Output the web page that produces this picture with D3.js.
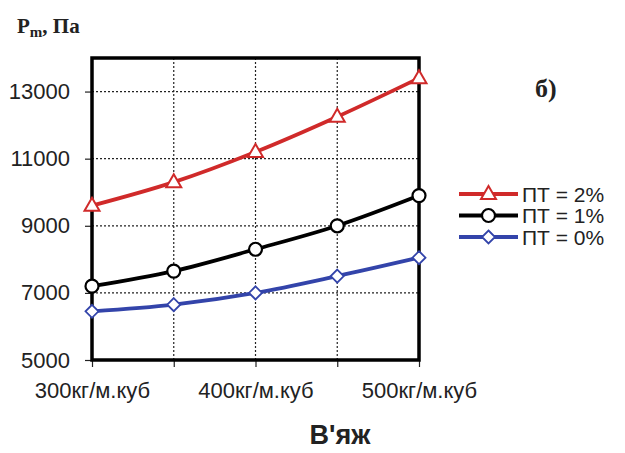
<!DOCTYPE html>
<html>
<head>
<meta charset="utf-8">
<script src="https://cdn.jsdelivr.net/npm/d3@7"></script>
<style>
  body { margin: 0; background: #fff; }
  svg text { font-family: "Liberation Sans", Arial, sans-serif; fill: #222; }
</style>
</head>
<body>
<svg id="chart" width="625" height="453"></svg>
<script>
// Data
const categories = ['300', '350', '400', '450', '500'];
const tickLabels = ['300кг/м.куб', '', '400кг/м.куб', '', '500кг/м.куб'];
const yTicks = [5000, 7000, 9000, 11000, 13000];
const pt2 = [9600, 10300, 11200, 12250, 13400];
const pt1 = [7200, 7650, 8300, 9000, 9900];
const pt0 = [6450, 6650, 7000, 7500, 8050];

const series = [
  { name: 'ПТ = 2%', values: pt2, color: '#d02a2a', marker: 'triangle' },
  { name: 'ПТ = 1%', values: pt1, color: '#000000', marker: 'circle' },
  { name: 'ПТ = 0%', values: pt0, color: '#3344aa', marker: 'diamond' }
];

const svg = d3.select('#chart');
const plot = { left: 92, right: 419, top: 58, bottom: 360 };

const x = d3.scalePoint().domain(categories).range([plot.left, plot.right]);
const y = d3.scaleLinear().domain([5000, 14000]).range([plot.bottom, plot.top]);

// Grid lines (dotted)
const grid = svg.append('g').attr('class', 'grid');
grid.selectAll('.hgrid')
  .data(yTicks.filter(t => t > 5000))
  .enter().append('line')
  .attr('x1', plot.left).attr('x2', plot.right)
  .attr('y1', d => y(d)).attr('y2', d => y(d))
  .attr('stroke', '#222').attr('stroke-width', 1.2).attr('stroke-dasharray', '2,2');
grid.selectAll('.vgrid')
  .data(categories.slice(1, -1))
  .enter().append('line')
  .attr('x1', d => x(d)).attr('x2', d => x(d))
  .attr('y1', plot.top).attr('y2', plot.bottom)
  .attr('stroke', '#222').attr('stroke-width', 1.2).attr('stroke-dasharray', '2,2');

// Axes
const yAxis = d3.axisLeft(y).tickValues(yTicks).tickSize(7).tickPadding(15).tickFormat(d3.format('d'));
const yG = svg.append('g').attr('transform', `translate(${plot.left},0)`).call(yAxis);
yG.select('.domain').remove();
yG.selectAll('line').attr('stroke', '#222').attr('stroke-width', 1.2);
yG.selectAll('text').style('font-size', '22px').attr('fill', '#222');

const xAxis = d3.axisBottom(x).tickSize(7).tickPadding(15).tickFormat((d, i) => tickLabels[i]);
const xG = svg.append('g').attr('transform', `translate(0,${plot.bottom})`).call(xAxis);
xG.select('.domain').remove();
xG.selectAll('line').attr('stroke', '#222').attr('stroke-width', 1.2);
xG.selectAll('text').style('font-size', '22px').attr('fill', '#222');

// Frame
svg.append('rect')
  .attr('x', plot.left).attr('y', plot.top)
  .attr('width', plot.right - plot.left).attr('height', plot.bottom - plot.top)
  .attr('fill', 'none').attr('stroke', '#000').attr('stroke-width', 3.5);

// Lines
const line = d3.line()
  .x((d, i) => x(categories[i]))
  .y(d => y(d))
  .curve(d3.curveMonotoneX);

const drawMarker = (g, type, cx, cy, color) => {
  if (type === 'triangle') {
    g.append('path')
      .attr('d', `M${cx},${cy - 8} L${cx + 7.5},${cy + 5} L${cx - 7.5},${cy + 5} Z`)
      .attr('fill', '#fff').attr('stroke', color).attr('stroke-width', 2);
  } else if (type === 'circle') {
    g.append('circle').attr('cx', cx).attr('cy', cy).attr('r', 6.5)
      .attr('fill', '#fff').attr('stroke', color).attr('stroke-width', 2.2);
  } else {
    g.append('path')
      .attr('d', `M${cx},${cy - 6.5} L${cx + 6.5},${cy} L${cx},${cy + 6.5} L${cx - 6.5},${cy} Z`)
      .attr('fill', '#fff').attr('stroke', color).attr('stroke-width', 1.8);
  }
};

const linesG = svg.append('g').attr('class', 'series');
series.forEach(s => {
  linesG.append('path')
    .attr('d', line(s.values))
    .attr('fill', 'none').attr('stroke', s.color).attr('stroke-width', 3.8);
  s.values.forEach((v, i) => drawMarker(linesG, s.marker, x(categories[i]), y(v), s.color));
});

// Legend
const legend = svg.append('g').attr('class', 'legend');
series.forEach((s, i) => {
  const ly = 194 + i * 21.5;
  legend.append('line')
    .attr('x1', 459).attr('x2', 518).attr('y1', ly).attr('y2', ly)
    .attr('stroke', s.color).attr('stroke-width', 4);
  drawMarker(legend, s.marker, 488.5, ly, s.color);
  legend.append('text')
    .attr('x', 522).attr('y', ly + 7.5)
    .style('font-size', '21px')
    .text(s.name);
});

// Axis titles and annotations
svg.append('text')
  .attr('x', 340).attr('y', 444)
  .attr('text-anchor', 'middle')
  .style('font-size', '27px').style('font-weight', 'bold')
  .text('В\'яж');

const yTitle = svg.append('text')
  .attr('x', 17).attr('y', 33)
  .style('font-family', '"Liberation Serif", "Times New Roman", serif')
  .style('font-size', '21px').style('font-weight', 'bold');
yTitle.append('tspan').text('P');
yTitle.append('tspan').attr('dy', 4).style('font-size', '15px').text('m');
yTitle.append('tspan').attr('dy', -4).text(', Па');

svg.append('text')
  .attr('x', 535).attr('y', 97)
  .style('font-family', '"Liberation Serif", "Times New Roman", serif')
  .style('font-size', '26px').style('font-weight', 'bold')
  .text('б)');
</script>
</body>
</html>
